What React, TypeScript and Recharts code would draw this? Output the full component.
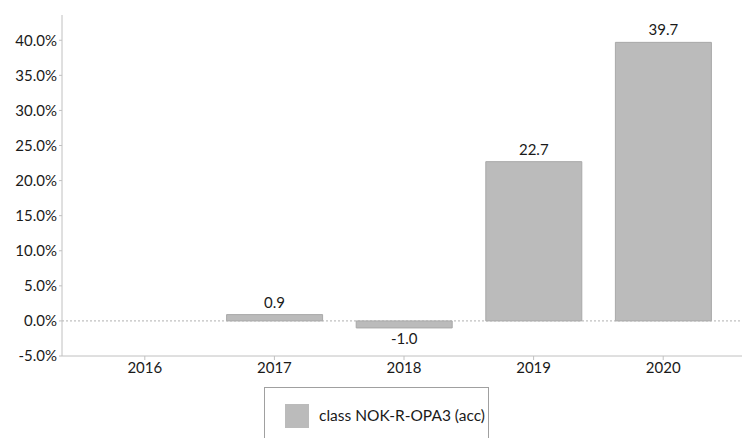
import React from 'react';
import { BarChart, Bar, XAxis, YAxis, ReferenceLine, LabelList } from 'recharts';

const years = ['2016', '2017', '2018', '2019', '2020'];
const values: (number | null)[] = [null, 0.9, -1.0, 22.7, 39.7];
const yTicks = [-5, 0, 5, 10, 15, 20, 25, 30, 35, 40];
const seriesName = 'class NOK-R-OPA3 (acc)';

const data = years.map((y, i) => ({ year: y, value: values[i] }));

const FONT = 'Lato, "Open Sans", sans-serif';

const renderLabel = (props: any) => {
  const { x, y, width, height, value } = props;
  if (value === null || value === undefined) return null;
  const top = Math.min(y, y + height);
  const bottom = Math.max(y, y + height);
  const cx = x + width / 2;
  const ty = value >= 0 ? top - 7 : bottom + 16;
  return (
    <text x={cx} y={ty} textAnchor="middle" fontSize={15} fill="#1a1a1a" fontFamily={FONT}>
      {Number(value).toFixed(1)}
    </text>
  );
};

export default function App() {
  return (
    <div style={{ position: 'absolute', left: 0, top: 0, width: 742, height: 438, background: '#fff' }}>
      <BarChart
        width={742}
        height={438}
        data={data}
        margin={{ top: 15, right: 0, bottom: 52, left: 2 }}
      >
        <XAxis
          dataKey="year"
          padding={{ left: 18, right: 14 }}
          axisLine={{ stroke: '#c0c0c0' }}
          tickLine={{ stroke: '#c0c0c0' }}
          tickSize={4}
          tick={{ fontSize: 15, fill: '#1a1a1a', fontFamily: FONT }}
          height={30}
        />
        <YAxis
          width={60}
          domain={[-5, 43.6]}
          ticks={yTicks}
          allowDataOverflow
          tickFormatter={(v: number) => v.toFixed(1) + '%'}
          axisLine={{ stroke: '#c0c0c0' }}
          tickLine={{ stroke: '#c0c0c0' }}
          tickSize={3}
          tick={{ fontSize: 15, fill: '#1a1a1a', fontFamily: FONT }}
        />
        <ReferenceLine y={0} stroke="#b0b0b0" strokeDasharray="2 2" />
        <Bar
          dataKey="value"
          name={seriesName}
          fill="#bbbbbb"
          stroke="#a9a9a9"
          strokeWidth={1}
          barSize={96}
          isAnimationActive={false}
        >
          <LabelList dataKey="value" content={renderLabel} />
        </Bar>
      </BarChart>
      <div
        style={{
          position: 'absolute',
          left: 264,
          top: 387,
          width: 225,
          height: 60,
          borderLeft: '1px solid #a0a0a0',
          borderRight: '1px solid #a0a0a0',
          borderTop: '1px solid #a0a0a0',
          boxSizing: 'border-box',
        }}
      >
        <div
          style={{
            position: 'absolute',
            left: 20,
            top: 16,
            width: 24,
            height: 24,
            background: '#bbbbbb',
          }}
        />
        <div
          style={{
            position: 'absolute',
            left: 54,
            top: 17,
            fontSize: 15.5,
            fontFamily: FONT,
            color: '#1a1a1a',
            whiteSpace: 'nowrap',
            lineHeight: '20px',
          }}
        >
          {seriesName}
        </div>
      </div>
    </div>
  );
}
